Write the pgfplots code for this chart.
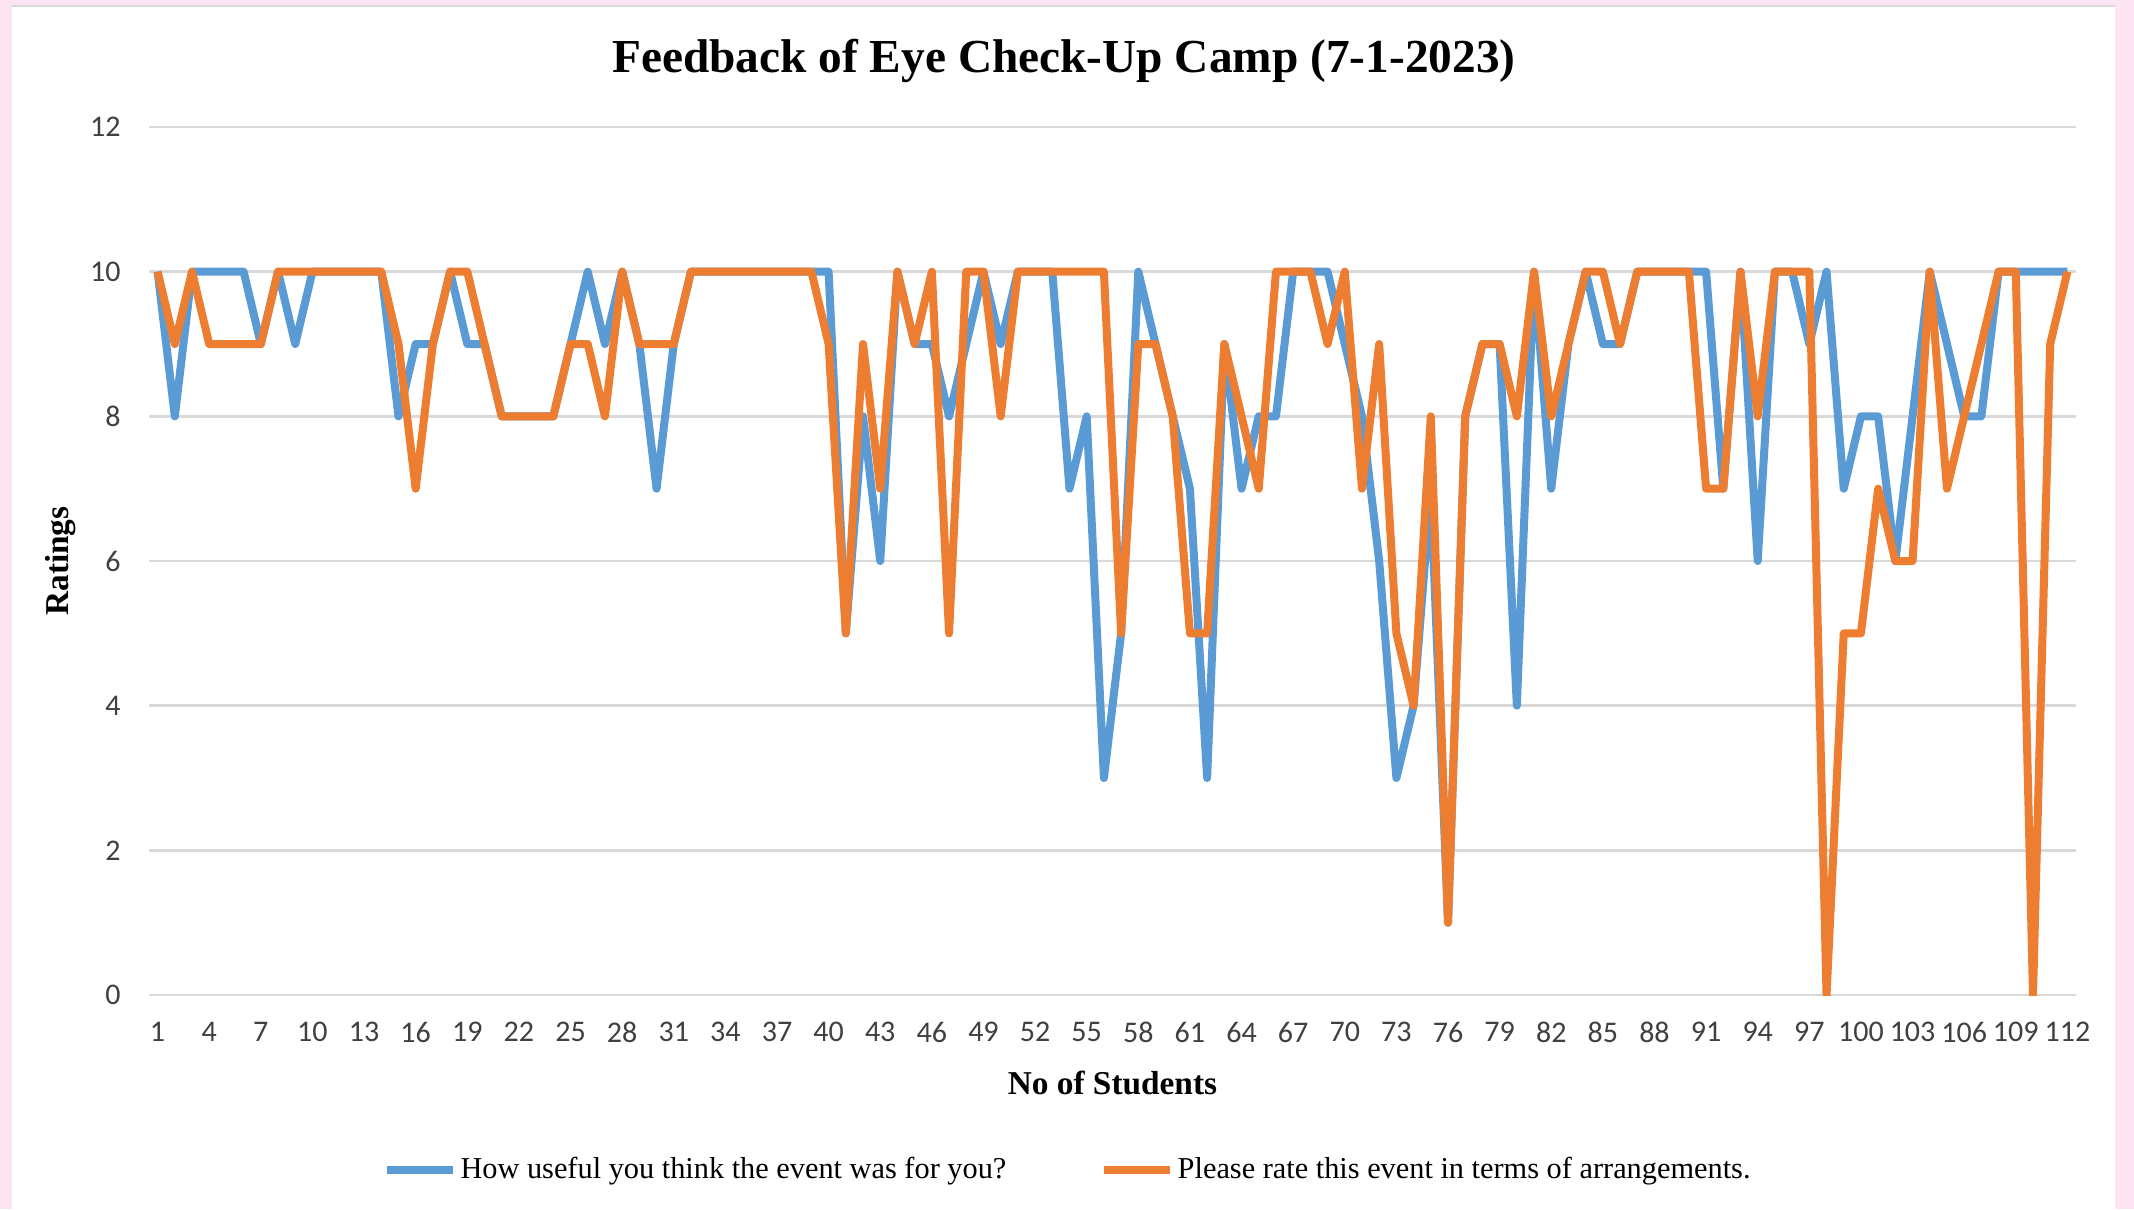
\documentclass[border=0pt]{standalone}
\usepackage{fontspec}
\setmainfont{Liberation Serif}
\newfontfamily\calib{Carlito}
\usepackage{pgfplots}
\usepackage{pgfplotstable}
\pgfplotsset{compat=1.18}
\definecolor{pinkbg}{RGB}{252,228,242}
\definecolor{serA}{RGB}{91,155,213}
\definecolor{serB}{RGB}{237,125,49}
\definecolor{gridc}{RGB}{217,217,217}
\definecolor{ticktxt}{RGB}{64,64,64}

% n = student, b = usefulness, o = arrangements
\pgfplotstableread{
n b o
1 10 10
2 8 9
3 10 10
4 10 9
5 10 9
6 10 9
7 9 9
8 10 10
9 9 10
10 10 10
11 10 10
12 10 10
13 10 10
14 10 10
15 8 9
16 9 7
17 9 9
18 10 10
19 9 10
20 9 9
21 8 8
22 8 8
23 8 8
24 8 8
25 9 9
26 10 9
27 9 8
28 10 10
29 9 9
30 7 9
31 9 9
32 10 10
33 10 10
34 10 10
35 10 10
36 10 10
37 10 10
38 10 10
39 10 10
40 10 9
41 5 5
42 8 9
43 6 7
44 10 10
45 9 9
46 9 10
47 8 5
48 9 10
49 10 10
50 9 8
51 10 10
52 10 10
53 10 10
54 7 10
55 8 10
56 3 10
57 5 5
58 10 9
59 9 9
60 8 8
61 7 5
62 3 5
63 9 9
64 7 8
65 8 7
66 8 10
67 10 10
68 10 10
69 10 9
70 9 10
71 8 7
72 6 9
73 3 5
74 4 4
75 7 8
76 1 1
77 8 8
78 9 9
79 9 9
80 4 8
81 10 10
82 7 8
83 9 9
84 10 10
85 9 10
86 9 9
87 10 10
88 10 10
89 10 10
90 10 10
91 10 7
92 7 7
93 10 10
94 6 8
95 10 10
96 10 10
97 9 10
98 10 0
99 7 5
100 8 5
101 8 7
102 6 6
103 8 6
104 10 10
105 9 7
106 8 8
107 8 9
108 10 10
109 10 10
110 10 0
111 10 9
112 10 10
}\ratings

\begin{document}
\begin{tikzpicture}[x=0.3pt,y=0.3pt]
\fill[pinkbg] (0,0) rectangle (2134,1209);
\fill[white] (12,0) rectangle (2115,1203);
\draw[gridc, line width=0.8pt] (12,1203) -- (2115,1203);
\begin{axis}[
  at={(44.7pt,64.2pt)}, anchor=south west,
  scale only axis, width=578.1pt, height=260.4pt,
  xmin=0.5, xmax=112.5, ymin=0, ymax=12,
  xtick={1,4,...,112}, ytick={0,2,...,12},
  ymajorgrids, grid style={gridc, line width=0.8pt},
  axis line style={draw=none}, major tick length=0pt,
  /pgf/number format/assume math mode=true,
  tick label style={font=\calib\fontsize{9}{10}\selectfont, text=ticktxt},
  xticklabel style={yshift=-4.5pt},
  yticklabel style={xshift=-5pt},
  title={Feedback of Eye Check-Up Camp (7-1-2023)},
  title style={font=\bfseries\fontsize{14.2}{17}\selectfont,
    at={(axis description cs:0.4748,1.053)}, anchor=center},
  xlabel={No of Students},
  ylabel={Ratings},
  label style={font=\bfseries\fontsize{10}{12}\selectfont},
  xlabel style={at={(axis description cs:0.5,-0.1014)}, anchor=center},
  ylabel style={at={(axis description cs:-0.0457,0.5)}, anchor=center, rotate=0},
  legend columns=2,
  legend style={draw=none, fill=none, at={(0.477,-0.2016)}, anchor=center,
    font=\fontsize{9.1}{11}\selectfont,
    /tikz/every even column/.append style={column sep=27pt},
    nodes={inner sep=1pt}},
  legend image code/.code={\draw[#1] (0pt,0pt) -- (20pt,0pt);},
]
\addplot[serA, line width=2.4pt, line join=round] table[x=n, y=b] {\ratings};
\addlegendentry{How useful you think the event was for you?}
\addplot[serB, line width=2.4pt, line join=round] table[x=n, y=o] {\ratings};
\addlegendentry{Please rate this event in terms of arrangements.}
\end{axis}
\end{tikzpicture}
\end{document}
